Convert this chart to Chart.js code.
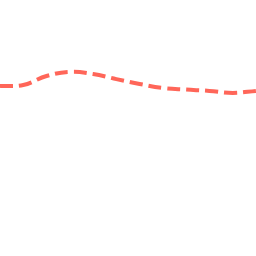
<!DOCTYPE html>
<html>
<head>
<meta charset="utf-8">
<script src="https://cdn.jsdelivr.net/npm/chart.js@4"></script>
<style>
html,body{margin:0;padding:0;background:#fff;}
#c{display:block;}
</style>
</head>
<body>
<canvas id="c" width="256" height="256"></canvas>
<script>
const categories = ['1','2','3','4','5','6','7','8','9','10','11','12'];
const seriesValues = [66.4, 66.8, 70.3, 71.9, 71.1, 69.1, 67.2, 65.6, 65.0, 64.5, 63.7, 64.5];
const yMin = 0;
const yMax = 100;

new Chart(document.getElementById('c'), {
  type: 'line',
  data: {
    labels: categories,
    datasets: [{
      data: seriesValues,
      borderColor: '#ff6659',
      borderWidth: 4,
      borderDash: [13, 6],
      pointRadius: 0,
      tension: 0.4,
      fill: false,
      clip: false
    }]
  },
  options: {
    responsive: false,
    animation: false,
    layout: { padding: 0 },
    plugins: { legend: { display: false }, tooltip: { enabled: false } },
    scales: {
      x: { display: false, offset: false },
      y: { display: false, min: yMin, max: yMax }
    }
  }
});
</script>
</body>
</html>
